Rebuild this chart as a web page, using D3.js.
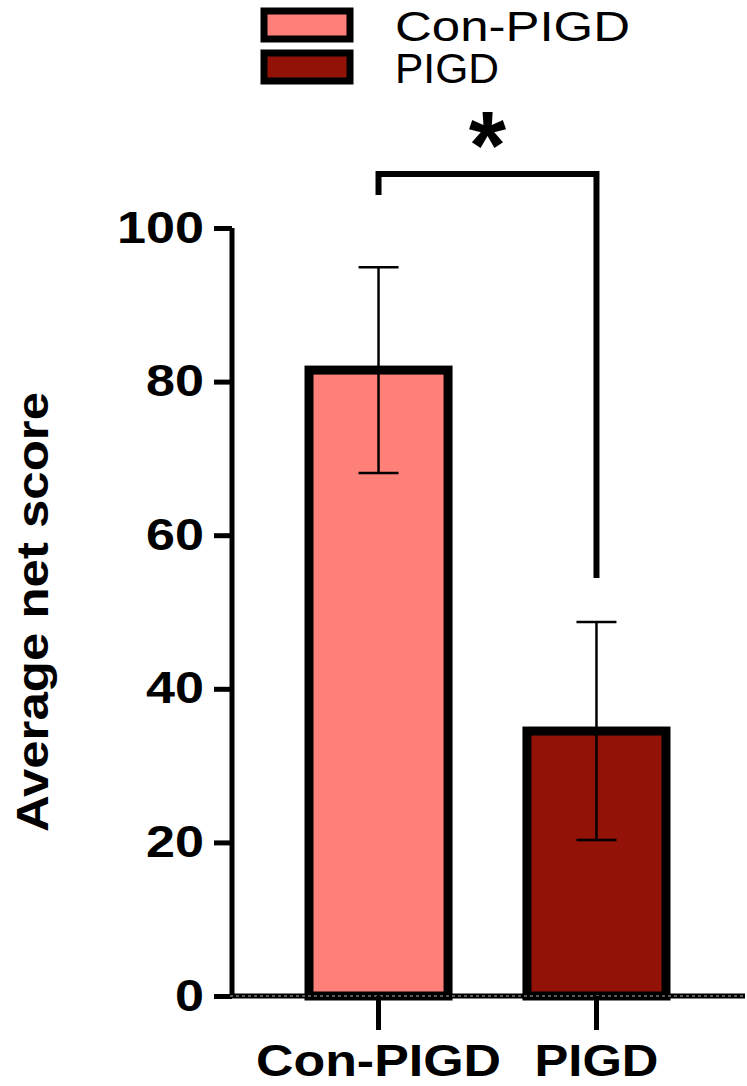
<!DOCTYPE html>
<html><head><meta charset="utf-8">
<script src="https://cdn.jsdelivr.net/npm/d3@7"></script>
<style>body{margin:0;background:#fff}</style>
</head><body>
<script>
const categories = ["Con-PIGD", "PIGD"];
const means = [81.5, 34.5];
const errors = [13.4, 14.2];
const colors = ["#ff7f79", "#921208"];
const yTicks = [0, 20, 40, 60, 80, 100];

const width = 747, height = 1086;
const font = "Liberation Sans, Arial, sans-serif";

const svg = d3.select("body").append("svg")
    .attr("width", width).attr("height", height);

const y = d3.scaleLinear().domain([0, 100]).range([996, 228]);
const x = d3.scaleBand().domain(categories).range([309, 666]).paddingInner(0.362).paddingOuter(0);

// y axis
const yAxis = svg.append("g").attr("transform", "translate(232,0)")
    .call(d3.axisLeft(y).tickValues(yTicks).tickSize(18).tickPadding(10));
yAxis.select(".domain").attr("stroke-width", 5).attr("d", `M0,${y(100)}V${y(0)}`);
yAxis.selectAll(".tick line").attr("stroke-width", 5);
yAxis.selectAll("text").attr("font-family", font).attr("font-weight", "bold")
    .attr("font-size", 44).attr("fill", "#000")
    .attr("textLength", d => String(d).length * 29).attr("lengthAdjust", "spacingAndGlyphs");

// bars
svg.selectAll("rect.bar").data(categories).enter().append("rect")
    .attr("class", "bar")
    .attr("x", d => x(d))
    .attr("y", (d, i) => y(means[i]))
    .attr("width", x.bandwidth())
    .attr("height", (d, i) => y(0) - y(means[i]))
    .attr("fill", (d, i) => colors[i])
    .attr("stroke", "#000").attr("stroke-width", 9);

// error bars
const cx = d => x(d) + x.bandwidth() / 2;
const eb = svg.append("g").attr("stroke", "#000").attr("stroke-width", 2.5);
categories.forEach((d, i) => {
    const c = cx(d), hi = y(means[i] + errors[i]), lo = y(means[i] - errors[i]);
    eb.append("line").attr("x1", c).attr("x2", c).attr("y1", hi).attr("y2", lo);
    eb.append("line").attr("x1", c - 20).attr("x2", c + 20).attr("y1", hi).attr("y2", hi);
    eb.append("line").attr("x1", c - 20).attr("x2", c + 20).attr("y1", lo).attr("y2", lo);
});

// x axis
svg.append("line").attr("x1", 230).attr("x2", 745).attr("y1", y(0)).attr("y2", y(0))
    .attr("stroke", "#000").attr("stroke-width", 5);
svg.append("line").attr("x1", 230).attr("x2", 745).attr("y1", y(0)).attr("y2", y(0))
    .attr("stroke", "#777").attr("stroke-width", 1.5).attr("stroke-dasharray", "3,3");
const xLabelLen = [245, 124];
categories.forEach((d, i) => {
    svg.append("line").attr("x1", cx(d)).attr("x2", cx(d)).attr("y1", y(0)).attr("y2", y(0) + 34)
        .attr("stroke", "#000").attr("stroke-width", 5);
    svg.append("text").attr("x", cx(d)).attr("y", 1076).attr("text-anchor", "middle")
        .attr("font-family", font).attr("font-weight", "bold").attr("font-size", 44)
        .attr("textLength", xLabelLen[i]).attr("lengthAdjust", "spacingAndGlyphs").text(d);
});

// y label
svg.append("text").attr("transform", `translate(48,612) rotate(-90)`)
    .attr("text-anchor", "middle").attr("font-family", font).attr("font-weight", "bold")
    .attr("font-size", 44).attr("textLength", 440).attr("lengthAdjust", "spacingAndGlyphs")
    .text("Average net score");

// significance bracket
const c0 = cx(categories[0]), c1 = cx(categories[1]);
svg.append("path").attr("d", `M${c0},195V174H${c1}V578`)
    .attr("fill", "none").attr("stroke", "#000").attr("stroke-width", 6);
svg.append("text").attr("x", (c0 + c1) / 2).attr("y", 178).attr("text-anchor", "middle")
    .attr("font-family", font).attr("font-weight", "bold").attr("font-size", 96).text("*");

// legend
const legendLen = [235, 104];
categories.forEach((d, i) => {
    const ly = 8 + i * 42;
    svg.append("rect").attr("x", 264).attr("y", ly + 3).attr("width", 86).attr("height", 28)
        .attr("fill", colors[i]).attr("stroke", "#000").attr("stroke-width", 7);
    svg.append("text").attr("x", 395).attr("y", ly + 33).attr("font-family", font)
        .attr("font-size", 42).attr("textLength", legendLen[i])
        .attr("lengthAdjust", "spacingAndGlyphs").text(d);
});
</script>
</body></html>
